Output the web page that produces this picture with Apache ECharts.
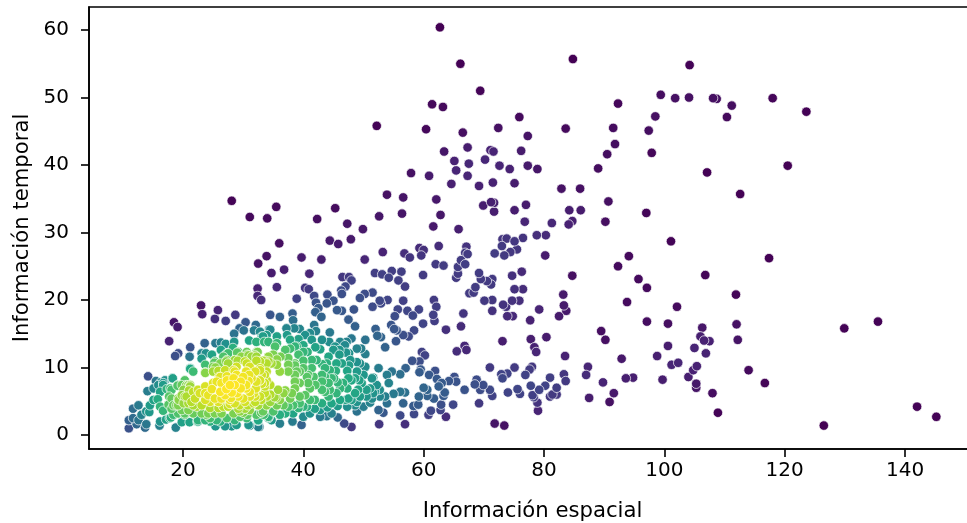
<!DOCTYPE html>
<html><head><meta charset="utf-8">
<script src="https://cdn.jsdelivr.net/npm/echarts@6/dist/echarts.min.js"></script>
<style>html,body{margin:0;background:#fff}#c{width:967px;height:523px}</style></head>
<body><div id="c"></div>
<script>
const xTicks=[20,40,60,80,100,120,140];
const yTicks=[0,10,20,30,40,50,60];
const xTitle='Información espacial';
const yTitle='Información temporal';
const viridis=['#440154','#482475','#414487','#355f8d','#2a788e','#21918c','#22a884','#44bf70','#7ad151','#bddf26','#fde725'];
const groupA=[[84.8,55.7],[104.2,54.8],[99.4,50.4],[101.8,49.9],[104.1,50.0],[108.1,49.9],[108.7,49.8],[111.2,48.8],[110.4,47.1],[118.0,49.9],[123.6,47.9],[92.3,49.1],[98.5,47.2],[97.4,45.1],[91.5,45.5],[83.6,45.4],[91.8,43.1],[90.5,41.6],[97.9,41.8],[89.0,39.5],[107.1,38.9],[120.5,39.9],[82.9,36.5],[86.0,36.5],[90.7,34.6],[112.6,35.7],[84.2,33.3],[86.1,33.3],[97.0,32.9],[84.7,31.7],[84.1,31.2],[90.2,31.6],[101.1,28.7],[117.4,26.2],[94.1,26.5],[92.3,25.0],[84.7,23.6],[106.8,23.7],[95.7,23.1],[97.1,21.8],[111.9,20.8],[93.8,19.7],[102.1,19.0],[97.1,16.8],[100.6,16.5],[112.0,16.4],[106.3,15.9],[89.5,15.4],[90.2,14.1],[106.0,14.6],[106.6,14.0],[107.5,13.9],[112.2,14.1],[100.6,13.2],[114.0,9.6],[116.7,7.7],[108.0,6.2],[108.9,3.3],[126.5,1.4],[129.9,15.8],[135.5,16.8],[142.0,4.2],[145.2,2.7],[62.7,60.4],[66.1,55.0],[69.4,51.0],[61.4,49.0],[63.2,48.6],[52.2,45.8],[60.4,45.3],[75.9,47.1],[72.4,45.5],[66.5,44.8],[77.3,44.3],[67.3,42.6],[63.4,42.0],[71.1,42.2],[71.6,42.0],[76.2,42.1],[65.1,40.6],[67.5,40.2],[70.2,40.8],[72.6,39.9],[74.3,39.4],[77.3,39.9],[78.9,39.4],[57.9,38.8],[60.9,38.4],[65.4,39.2],[67.3,38.4],[64.6,37.2],[69.2,36.9],[71.5,37.4],[75.1,37.3],[53.9,35.6],[56.6,35.2],[62.1,34.9],[69.9,34.0],[71.2,34.5],[71.7,34.4],[75.1,33.3],[77.0,34.1],[71.7,33.1],[56.4,32.8],[52.6,32.4],[62.8,32.6],[76.8,31.6],[81.3,31.4],[61.6,30.9],[65.8,30.5],[49.9,30.5],[47.9,29.0],[28.1,34.7],[35.5,33.8],[31.1,32.3],[34.0,32.1],[45.3,33.6],[42.3,32.0],[47.3,31.3],[36.0,28.4],[44.4,28.8],[45.8,28.3],[33.9,26.5],[32.5,25.4],[39.7,26.3],[43.0,26.0],[34.7,24.0],[36.8,24.5],[41.0,23.9],[80.3,29.6],[78.8,29.6],[80.2,26.6],[83.2,20.8],[83.3,19.2],[83.7,18.4],[32.4,21.7],[35.6,21.9],[23.0,19.2],[25.8,18.5],[23.2,17.9],[18.5,16.7],[19.1,16.0],[17.7,13.9],[105.3,7.6],[105.3,7.0],[71.8,1.7],[73.4,1.4]];
const groupB=[[105.0,12.9],[106.9,12.1],[98.8,11.7],[92.9,11.3],[101.2,10.4],[102.3,10.7],[105.4,10.2],[104.8,9.6],[87.3,10.1],[87.0,8.9],[104.0,8.6],[99.7,8.2],[93.6,8.4],[94.8,8.5],[89.8,7.8],[91.6,6.2],[87.5,5.5],[90.9,4.9],[73.8,29.1],[73.1,29.0],[75.1,28.7],[76.5,29.2],[73.0,28.0],[62.5,28.0],[67.1,27.9],[59.3,27.7],[60.0,27.4],[75.5,27.5],[74.4,27.1],[71.8,26.9],[73.4,26.6],[66.9,27.0],[67.3,26.8],[53.2,27.1],[56.8,26.9],[57.7,26.3],[59.6,26.6],[50.2,26.0],[66.2,25.9],[66.9,25.3],[62.0,25.3],[63.3,25.1],[65.7,24.9],[51.9,24.0],[53.1,23.8],[54.7,24.3],[56.3,24.2],[54.2,23.3],[55.8,22.9],[59.9,23.7],[65.7,23.9],[65.4,23.3],[69.2,24.0],[69.5,23.1],[70.5,22.8],[71.4,23.1],[71.2,22.3],[74.7,23.6],[76.3,24.2],[48.0,22.9],[47.6,23.4],[46.5,23.4],[56.9,22.0],[68.6,21.9],[75.1,21.6],[76.5,21.6],[67.6,21.0],[68.3,21.1],[61.7,20.0],[62.1,19.0],[70.1,19.9],[71.4,20.0],[74.7,19.9],[75.9,19.9],[73.2,19.3],[73.7,19.0],[79.2,18.6],[71.4,18.4],[73.9,17.6],[74.8,17.6],[82.5,17.6],[77.7,17.0],[66.6,18.0],[66.2,16.1],[73.1,13.9],[77.8,14.2],[80.4,14.5],[78.4,13.0],[78.7,12.3],[66.8,13.2],[67.1,12.6],[83.5,11.7],[71.0,10.0],[75.1,10.0],[78.0,10.1],[77.6,9.7],[73.9,9.1],[72.9,9.0],[73.1,8.4],[76.9,8.9],[83.3,9.0],[83.6,8.0],[81.0,8.5],[77.8,7.3],[79.2,6.7],[80.2,7.3],[82.1,7.0],[82.1,6.0],[81.0,5.7],[81.4,6.0],[78.3,5.6],[78.9,4.8],[78.1,5.9],[79.0,3.6],[74.0,6.3],[75.6,6.8],[76.0,6.1],[63.7,2.7],[56.9,1.6],[52.6,1.6],[47.0,22.0],[46.3,21.4],[46.4,20.9],[40.3,21.8],[40.9,21.6],[32.4,20.6],[33.0,20.0],[41.8,20.6],[44.0,20.8],[27.1,16.9],[25.3,17.2],[28.7,17.8],[30.4,16.7],[34.5,17.8],[32.1,16.3],[36.1,17.5],[65.5,12.4]];
const groupC=[[50.2,20.9],[51.5,21.1],[49.4,20.3],[52.7,19.9],[52.9,19.5],[54.0,20.0],[56.6,19.9],[51.5,19.0],[55.7,18.6],[57.3,18.4],[59.2,18.6],[61.6,17.8],[61.8,16.9],[58.2,17.7],[59.9,16.5],[63.7,15.6],[58.4,15.5],[38.9,20.2],[45.0,19.9],[43.9,19.5],[42.1,19.6],[42.5,18.8],[45.6,18.5],[46.4,18.4],[48.4,18.6],[43.0,17.5],[47.5,17.1],[48.6,16.1],[55.2,17.6],[54.6,16.3],[55.1,15.7],[55.5,15.5],[52.0,15.7],[52.3,14.7],[52.9,14.5],[53.6,13.0],[55.4,13.9],[56.6,14.8],[57.5,14.6],[59.7,12.3],[60.2,11.8],[65.1,8.6],[65.4,7.9],[64.2,8.0],[68.8,8.2],[68.5,7.5],[69.9,7.4],[69.4,6.7],[71.0,6.7],[71.4,5.8],[66.8,6.7],[63.0,7.7],[62.2,8.3],[61.9,9.5],[60.9,8.9],[62.5,7.2],[63.5,6.3],[63.3,5.8],[61.7,5.4],[69.2,4.7],[62.9,4.5],[64.9,4.5],[62.8,3.7],[61.2,3.6],[60.8,3.0],[58.4,3.1],[59.1,4.5],[56.1,2.9],[53.3,3.3],[52.5,3.7],[38.2,18.0],[42.0,18.2],[29.4,15.8],[30.1,15.5],[31.8,15.5],[33.3,14.6],[34.3,15.6],[28.5,15.0],[18.7,11.7],[19.2,12.1],[21.2,13.0],[23.6,13.6],[14.2,8.7]];
const groupD=[[59.3,10.9],[58.1,11.0],[59.5,9.7],[59.3,9.3],[60.0,7.0],[60.6,6.7],[60.6,5.8],[59.2,5.7],[58.3,4.3],[56.6,4.7],[53.9,4.7],[56.1,6.4],[56.9,6.3],[55.0,6.1],[57.0,9.9],[56.1,9.0],[54.7,9.4],[53.9,8.9],[54.2,7.7],[50.3,14.1],[48.0,14.3],[47.2,13.8],[38.3,17.0],[38.5,15.8],[39.4,15.7],[41.8,16.3],[42.1,15.4],[44.4,15.2],[37.2,15.8],[34.5,15.6],[50.3,12.0],[25.4,13.6],[26.3,13.7],[27.1,13.5],[28.5,13.8],[31.0,14.0],[32.2,13.8],[23.8,12.1],[21.1,11.6],[15.5,8.0],[16.3,7.8],[14.1,6.5],[11.0,1.0],[11.7,3.9],[12.6,4.4],[11.0,2.2],[11.7,2.5]];
const groupE=[[48.9,12.8],[49.6,12.8],[45.0,12.6],[46.0,12.6],[47.1,12.2],[46.0,11.9],[47.6,12.1],[44.2,11.6],[48.9,10.8],[50.3,10.1],[47.6,10.3],[52.5,9.9],[47.3,9.5],[51.6,8.5],[52.2,7.4],[52.7,6.7],[51.9,6.4],[51.4,5.4],[51.1,4.8],[50.0,4.2],[48.9,3.5],[48.0,1.2],[46.8,1.7],[45.7,2.6],[43.9,2.8],[40.3,14.8],[41.1,15.1],[43.1,14.1],[44.3,13.8],[41.4,14.1],[42.8,12.7],[37.3,14.8],[37.8,14.1],[39.2,14.2],[35.6,14.6],[33.9,14.8],[33.1,14.6],[32.8,15.3],[33.5,13.8],[26.3,12.6],[28.3,12.9],[29.0,12.2],[27.2,12.0],[30.7,11.9],[32.4,12.3],[23.1,11.3],[16.7,7.7],[16.7,7.4],[15.8,5.3],[16.2,6.4],[14.5,4.4],[12.6,2.2],[12.3,1.6],[13.7,1.1],[13.9,1.6],[13.9,3.5],[14.4,3.4],[16.1,1.4],[16.2,2.0]];
const groupF=[[40.0,13.3],[34.2,13.8],[35.6,13.6],[37.8,12.8],[38.6,13.1],[35.3,13.1],[40.0,12.3],[40.7,12.3],[41.4,11.1],[40.0,11.0],[37.5,11.4],[43.1,10.5],[43.9,10.6],[45.5,10.6],[45.4,9.5],[43.6,9.9],[44.4,9.6],[48.9,9.4],[50.0,8.9],[51.4,8.4],[48.0,8.1],[49.3,8.1],[47.3,6.9],[49.1,6.7],[50.5,6.7],[48.6,6.2],[47.1,5.2],[48.6,4.4],[48.9,4.9],[45.7,4.3],[47.3,4.2],[36.1,1.7],[38.2,2.0],[39.7,1.5],[34.7,2.2],[32.7,1.2],[31.1,1.4],[28.1,1.3],[27.0,1.3],[25.4,1.3],[18.8,1.1],[19.8,1.9],[21.1,1.9],[22.4,2.0],[24.5,2.0],[18.0,2.6],[17.2,2.3],[16.7,3.6],[17.6,4.5],[19.2,4.4],[17.7,5.7],[17.3,6.8],[17.9,6.9],[18.2,8.4],[19.1,7.4],[21.2,9.8],[21.7,9.4],[23.7,10.4],[25.2,10.7],[23.7,9.3],[27.2,10.9],[29.1,11.0],[30.6,10.6],[32.2,11.6],[34.2,10.9],[35.0,11.9],[33.6,11.0],[35.6,11.2],[42.0,13.0],[38.6,10.6]];
const groupG=[[32.5,2.1],[34.2,2.5],[30.7,3.0],[38.3,3.2],[40.0,2.7],[41.9,3.9],[42.8,3.7],[44.0,4.1],[35.0,3.5],[33.4,3.0],[40.6,4.2],[39.2,4.0],[41.9,5.2],[44.2,5.7],[45.5,6.2],[46.1,6.9],[43.6,6.4],[45.7,7.8],[43.1,8.9],[41.7,8.6],[40.8,8.9],[41.1,6.9],[43.1,7.9],[44.2,7.7],[38.6,10.3],[37.5,10.4],[34.7,10.6],[35.6,10.4],[33.9,10.6],[32.8,10.9],[25.4,10.0],[26.0,8.6],[19.3,5.2],[20.5,7.3],[21.2,7.4],[21.0,6.6],[22.5,2.0],[23.7,2.2],[17.8,2.5],[18.9,4.4],[19.2,5.4],[18.1,5.4],[19.1,7.3],[18.3,8.4],[21.2,9.9],[23.7,9.2],[25.0,10.1],[27.3,11.1],[29.2,12.3],[30.9,11.8],[32.2,12.3],[32.5,1.2],[32.5,2.2],[36.7,4.4],[35.6,4.4]];
const groupH=[[27.0,9.6],[28.4,9.6],[25.9,9.5],[27.5,10.6],[28.9,10.1],[30.3,10.9],[32.2,11.0],[33.3,11.0],[30.6,9.4],[32.0,9.4],[33.1,8.9],[33.9,8.1],[33.6,7.2],[32.8,5.7],[33.6,6.2],[32.5,4.4],[33.9,4.4],[31.1,3.7],[32.2,3.0],[28.4,3.2],[27.3,2.5],[25.6,2.2],[24.5,2.5],[23.1,3.2],[21.7,3.2],[20.9,3.7],[21.4,4.9],[20.6,5.7],[20.1,6.7],[21.2,7.2],[22.5,6.7],[20.9,7.4],[34.5,7.4],[37.0,6.6],[38.6,6.9],[39.4,5.7],[37.8,5.4],[34.5,4.9],[40.3,5.9],[40.6,8.6],[39.4,9.4],[38.6,7.9],[37.5,9.4],[33.6,7.7],[32.8,8.1],[27.3,8.7],[28.6,9.4],[30.5,9.4]];
const groupI=[[27.3,8.1],[26.2,8.6],[25.0,7.7],[23.7,7.2],[28.4,8.4],[24.2,5.9],[22.8,6.2],[22.0,5.4],[23.1,4.4],[24.5,4.0],[33.1,7.6],[29.5,3.5],[25.9,4.0],[31.0,8.9],[32.0,4.9],[30.0,3.3],[29.6,6.9],[30.5,6.9],[29.2,5.7],[31.1,6.4],[28.6,7.4],[26.2,6.4],[27.2,6.8],[28.1,6.3],[27.0,5.9],[24.8,6.8],[25.9,4.9],[27.5,4.2],[24.5,4.9],[29.4,4.4],[31.1,5.7],[32.1,6.9],[30.9,8.0],[29.6,7.9],[32.2,7.9]];
const groupJ=[[37.0,12.6],[36.2,11.6],[39.2,11.9],[42.2,11.1],[41.4,9.9],[40.0,9.9],[38.9,9.4],[40.8,7.7],[42.0,7.4],[39.4,7.7],[43.1,6.7],[44.4,6.7],[45.1,8.4],[46.6,7.7],[47.5,8.4],[49.7,7.7],[50.5,5.7],[47.5,5.4],[46.1,5.2],[44.7,4.7],[43.1,4.7],[41.1,5.2],[39.4,4.7],[37.5,4.2],[36.1,5.2],[36.7,6.2],[38.1,6.2],[35.8,6.7],[38.6,8.9],[36.1,9.4],[33.9,9.4],[32.8,9.6],[34.2,11.6],[38.9,13.1],[44.7,8.4],[43.6,8.6],[48.6,8.4],[51.1,6.9],[49.4,5.7],[48.0,5.2],[44.7,3.2],[42.8,2.7],[41.1,3.2],[37.0,3.2],[36.1,3.0],[34.2,2.7],[40.0,4.2],[38.3,4.4],[51.6,6.2],[53.6,5.7],[52.7,5.7],[49.4,10.6],[47.8,11.1],[46.4,10.6],[46.9,13.3],[45.3,13.1],[46.1,13.8]];
const groupK=[[25.3,10.9],[28.6,11.1],[29.7,11.6],[31.4,11.6],[26.2,10.6],[25.6,7.9],[26.4,7.7],[27.8,7.4],[28.9,8.9],[30.0,8.6],[31.4,8.4],[32.8,8.1],[21.7,6.4],[23.7,6.2],[25.3,5.4],[26.4,5.4],[27.8,5.2],[28.6,4.7],[30.3,4.9],[32.0,5.7],[31.7,4.7],[30.3,3.9],[26.7,4.2],[25.3,3.2],[26.4,3.2],[24.2,3.2],[22.3,4.2],[20.9,4.7],[23.7,5.2],[29.5,2.7],[30.6,2.5],[33.3,3.5],[34.2,2.7],[20.1,4.7],[19.8,5.9],[21.7,4.4],[20.3,3.2],[19.2,3.2],[18.1,3.9],[20.6,7.4],[19.8,7.4],[22.5,2.2],[23.9,3.0],[26.2,2.0],[28.9,1.5],[28.6,2.2],[30.9,1.5],[33.9,5.7],[33.6,8.9],[31.1,10.1],[32.8,9.9],[25.0,9.4],[20.3,8.1],[26.7,11.6],[24.8,11.9],[27.5,12.1],[30.6,12.3],[32.0,11.8],[23.1,12.1]];
const groupL=[[15.9,7.4],[15.1,6.9],[17.0,8.1],[18.1,6.7],[15.1,5.2],[13.1,3.0],[16.2,4.2],[18.4,4.4],[20.3,5.7],[19.8,3.7],[20.3,3.0],[18.4,3.0]];
const groupM=[[29.0,6.2],[30.0,5.4],[28.0,5.5],[30.5,7.4],[27.8,4.6],[31.8,6.2],[33.0,5.2],[34.5,6.0],[35.5,5.5],[33.0,3.3],[30.8,4.4],[29.2,3.9],[35.2,5.6]];
const groups=[groupA,groupB,groupC,groupD,groupE,groupF,groupG,groupH,groupI,groupJ,groupK,groupL,groupM];

// Colour each point by a Gaussian density estimate of the points themselves, densest drawn last.
const pts=groups.flat();
const n=pts.length, mx=pts.reduce((s,p)=>s+p[0],0)/n, my=pts.reduce((s,p)=>s+p[1],0)/n;
let sxx=0,syy=0,sxy=0; pts.forEach(p=>{sxx+=(p[0]-mx)**2;syy+=(p[1]-my)**2;sxy+=(p[0]-mx)*(p[1]-my)});
sxx/=n-1;syy/=n-1;sxy/=n-1;
const f2=Math.pow(n,-1/3)*0.45, det=(sxx*syy-sxy*sxy)*f2*f2;
const ixx=syy*f2/det, iyy=sxx*f2/det, ixy=-sxy*f2/det;
const dens=pts.map(p=>pts.reduce((s,q)=>{const a=p[0]-q[0],b=p[1]-q[1];return s+Math.exp(-.5*(ixx*a*a+2*ixy*a*b+iyy*b*b))},0));
const dmin=Math.min(...dens),dmax=Math.max(...dens);
const hex=c=>[1,3,5].map(i=>parseInt(c.substr(i,2),16));
const cmap=t=>{const u=Math.min(.9999,t)*(viridis.length-1),i=Math.floor(u),f=u-i,a=hex(viridis[i]),b=hex(viridis[i+1]);
  return 'rgb('+a.map((v,k)=>Math.round(v+(b[k]-v)*f)).join(',')+')'};
const items=pts.map((p,i)=>({value:p,d:dens[i],itemStyle:{color:cmap((dens[i]-dmin)/(dmax-dmin))}})).sort((a,b)=>a.d-b.d);

const chart=echarts.init(document.getElementById('c'),null,{renderer:'canvas'});
const font='DejaVu Sans';
chart.setOption({
 animation:false,
 grid:{left:89,top:7,width:880,height:442,show:true,outerBoundsMode:'none',borderColor:'#000',borderWidth:1.6,backgroundColor:'#fff'},
 xAxis:{type:'value',min:4.38,max:150.63,splitLine:{show:false},
  axisLine:{show:true,onZero:false,lineStyle:{color:'#000',width:1.6}},
  axisTick:{show:true,length:8,lineStyle:{color:'#000',width:1.6},customValues:xTicks},
  axisLabel:{customValues:xTicks,color:'#000',fontFamily:font,fontSize:20,margin:12,formatter:v=>String(v)},
  name:xTitle,nameLocation:'middle',nameGap:52,nameTextStyle:{color:'#000',fontFamily:font,fontSize:21.2,padding:[0,0,0,7]}},
 yAxis:{type:'value',min:-2.07,max:63.41,splitLine:{show:false},
  axisLine:{show:true,onZero:false,lineStyle:{color:'#000',width:1.6}},
  axisTick:{show:true,length:8,lineStyle:{color:'#000',width:1.6},customValues:yTicks},
  axisLabel:{customValues:yTicks,color:'#000',fontFamily:font,fontSize:20,margin:20,padding:[2,0,0,0],formatter:v=>String(v)},
  name:yTitle,nameLocation:'middle',nameGap:56,nameTextStyle:{color:'#000',fontFamily:font,fontSize:21.2}},
 series:[{type:'scatter',data:items,symbol:'circle',symbolSize:9.5,clip:true,
   itemStyle:{borderColor:'#fff',borderWidth:0.7,opacity:1}}]
});
</script></body></html>
